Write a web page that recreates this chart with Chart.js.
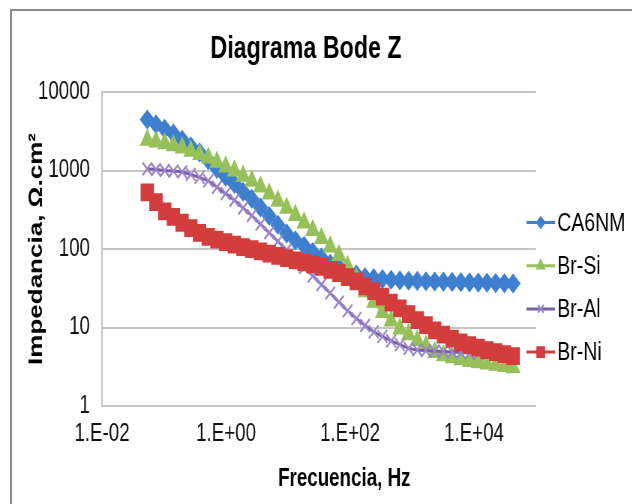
<!DOCTYPE html>
<html>
<head>
<meta charset="utf-8">
<script src="https://cdn.jsdelivr.net/npm/chart.js@4.4.1/dist/chart.umd.min.js"></script>
<style>
html,body{margin:0;padding:0;background:#fff;overflow:hidden;}
#frame{position:absolute;left:10px;top:9px;width:700px;height:600px;border-left:2px solid #8c8c8c;border-top:2px solid #8c8c8c;}
/* the chart is drawn 843 wide and squeezed to 632, like the original picture */
#wrap{position:absolute;left:0;top:0;width:843px;height:504px;transform:scaleX(0.75);transform-origin:0 0;}
</style>
</head>
<body>
<div id="frame"></div>
<div id="wrap"><canvas id="c" width="843" height="504"></canvas></div>
<script>
// ---- data (Hz, ohm.cm2) ----
const freq = [
  0.0537,0.0742,0.1026,0.1417,0.196,0.2706,0.374,0.517,0.714,0.987,
  1.364,1.884,2.604,3.599,4.974,6.873,9.497,13.13,18.14,25.06,
  34.64,47.86,66.14,91.41,126.3,174.6,241.3,333.4,460.7,636.7,
  879.8,1216,1680,2322,3209,4434,6127,8467,11700,16170,
  22340,30870,42660
];
const ca6nm = [
  4470,3890,3390,2950,2460,2040,1700,1350,1050,832,
  676,537,437,339,263,204,158,129,110,91.2,
  77.6,65.0,58.2,52.1,47.2,43.7,42.5,41.5,40.6,39.8,
  39.4,39.2,38.9,38.6,38.4,38.1,37.8,37.6,37.3,37.1,
  36.8,36.6,36.3
];
const brSi = [
  2450,2320,2200,2080,1950,1770,1610,1450,1280,1120,
  990,848,735,619,505,410,333,269,216,173,
  137,107,83.2,60.3,42.1,28.8,21.2,15.6,12.2,9.64,
  8.13,6.84,5.80,4.85,4.40,4.14,3.90,3.72,3.59,3.46,
  3.33,3.21,3.09
];
const brAl = [
  1050,1030,1000,982,959,891,818,738,612,508,
  418,333,267,207,161,125,97.1,75.3,58.5,45.4,
  35.2,27.4,21.1,16.3,13.0,10.6,8.79,7.71,6.76,6.05,
  5.42,5.18,5.08,4.99,4.93,4.88,4.82,4.75,4.70,4.63,
  4.58,4.52,4.47
];
const brNi = [
  525,395,302,256,216,185,160,143,132,122,
  114,106,99.8,93.3,87.5,81.8,76.7,71.8,67.5,63.5,
  59.0,54.1,49.3,43.7,38.7,33.5,29.0,24.7,20.8,17.5,
  14.8,12.4,10.7,9.18,8.09,7.23,6.46,5.98,5.55,5.16,
  4.86,4.57,4.31
];
const seriesNames = ['CA6NM','Br-Si','Br-Al','Br-Ni'];
const xTickVals = [0.01, 1, 100, 10000];
const xTickLabels = ['1.E-02','1.E+00','1.E+02','1.E+04'];
const yTickVals = [1, 10, 100, 1000, 10000];
const yTickLabels = ['1','10','100','1000','10000'];

const chartTitle = 'Diagrama Bode Z';
const xTitle = 'Frecuencia, Hz';
const yTitle = 'Impedancia, Ω.cm²';

const FONT = '"Liberation Sans", Arial, sans-serif';
Chart.defaults.font.family = FONT;
Chart.defaults.color = '#111';

function pts(vals){ return freq.map((f,i)=>({x:f, y:vals[i]})); }

function series(name, vals, color, markColor, style, radius, bw, order){
    return {
        label:name, data:pts(vals), showLine:true,
        borderColor:color, borderWidth:3, tension:0,
        pointStyle:style, pointRadius:radius, pointHoverRadius:radius,
        pointBackgroundColor:markColor, pointBorderColor:markColor, pointBorderWidth:bw,
        order:order
    };
}

// ===================== titles + legend, placed like the Excel chart =====================
const extras = {
    id:'extras',
    afterDraw(chart){
        const ctx = chart.ctx;
        ctx.save();
        ctx.fillStyle = '#000';
        ctx.textAlign = 'center';
        ctx.textBaseline = 'middle';
        ctx.font = 'bold 31px ' + FONT;
        ctx.fillText(chartTitle, 408, 49.5);
        ctx.font = 'bold 25px ' + FONT;
        ctx.fillText(xTitle, 459, 479);

        chart.data.datasets.forEach((ds,i)=>{
            const y = 222.5 + i*43.2;
            ctx.strokeStyle = ds.borderColor;
            ctx.lineWidth = 3;
            ctx.beginPath(); ctx.moveTo(702,y); ctx.lineTo(740,y); ctx.stroke();
            ctx.fillStyle = ds.pointBackgroundColor;
            ctx.strokeStyle = ds.pointBorderColor;
            ctx.lineWidth = ds.pointBorderWidth;
            Chart.helpers.drawPoint(ctx, {pointStyle:ds.pointStyle, radius:ds.pointRadius*0.62, borderWidth:ds.pointBorderWidth, rotation:0}, 721, y);
            ctx.fillStyle = '#000';
            ctx.font = '26px ' + FONT;
            ctx.textAlign = 'left';
            ctx.fillText(ds.label, 743, y + 1);
        });
        ctx.restore();
    }
};

new Chart(document.getElementById('c'), {
    type:'scatter',
    data:{
        datasets:[
            series(seriesNames[0], ca6nm, '#3f7fd0', '#3f7fd0', 'rectRot', 9, 1.5, 3),
            series(seriesNames[1], brSi, '#96c05a', '#96c05a', 'triangle', 10, 1.5, 2),
            series(seriesNames[2], brAl, '#7a5ca8', '#9a86c6', 'crossRot', 9, 2.2, 1),
            series(seriesNames[3], brNi, '#d43d3d', '#d43d3d', 'rect', 11.5, 1.5, 0)
        ]
    },
    options:{
        responsive:false,
        devicePixelRatio:1,
        animation:false,
        layout:{padding:{left:0, right:128.3, top:92, bottom:42}},
        plugins:{
            legend:{display:false},
            tooltip:{enabled:false},
            title:{display:false}
        },
        scales:{
            x:{
                type:'logarithmic', min:0.01, max:100000,
                afterBuildTicks:s=>{ s.ticks = xTickVals.map(v=>({value:v})); },
                ticks:{font:{size:25}, padding:13, maxRotation:0, autoSkip:false,
                       callback:(v,i)=>xTickLabels[i]},
                grid:{display:false, drawTicks:false},
                border:{display:true, color:'#c6c6c6', width:2}
            },
            y:{
                type:'logarithmic', min:1, max:10000,
                afterBuildTicks:s=>{ s.ticks = yTickVals.map(v=>({value:v})); },
                afterFit:s=>{ s.width = 136; },
                ticks:{font:{size:25}, padding:16, autoSkip:false,
                       callback:(v,i)=>yTickLabels[i]},
                grid:{color:'#c6c6c6', lineWidth:2, drawTicks:false},
                border:{display:true, color:'#c6c6c6', width:2},
                title:{display:true, text:yTitle, color:'#000',
                       font:{size:26, weight:'bold'}, padding:{top:33, bottom:0}}
            }
        }
    },
    plugins:[extras]
});
</script>
</body>
</html>
